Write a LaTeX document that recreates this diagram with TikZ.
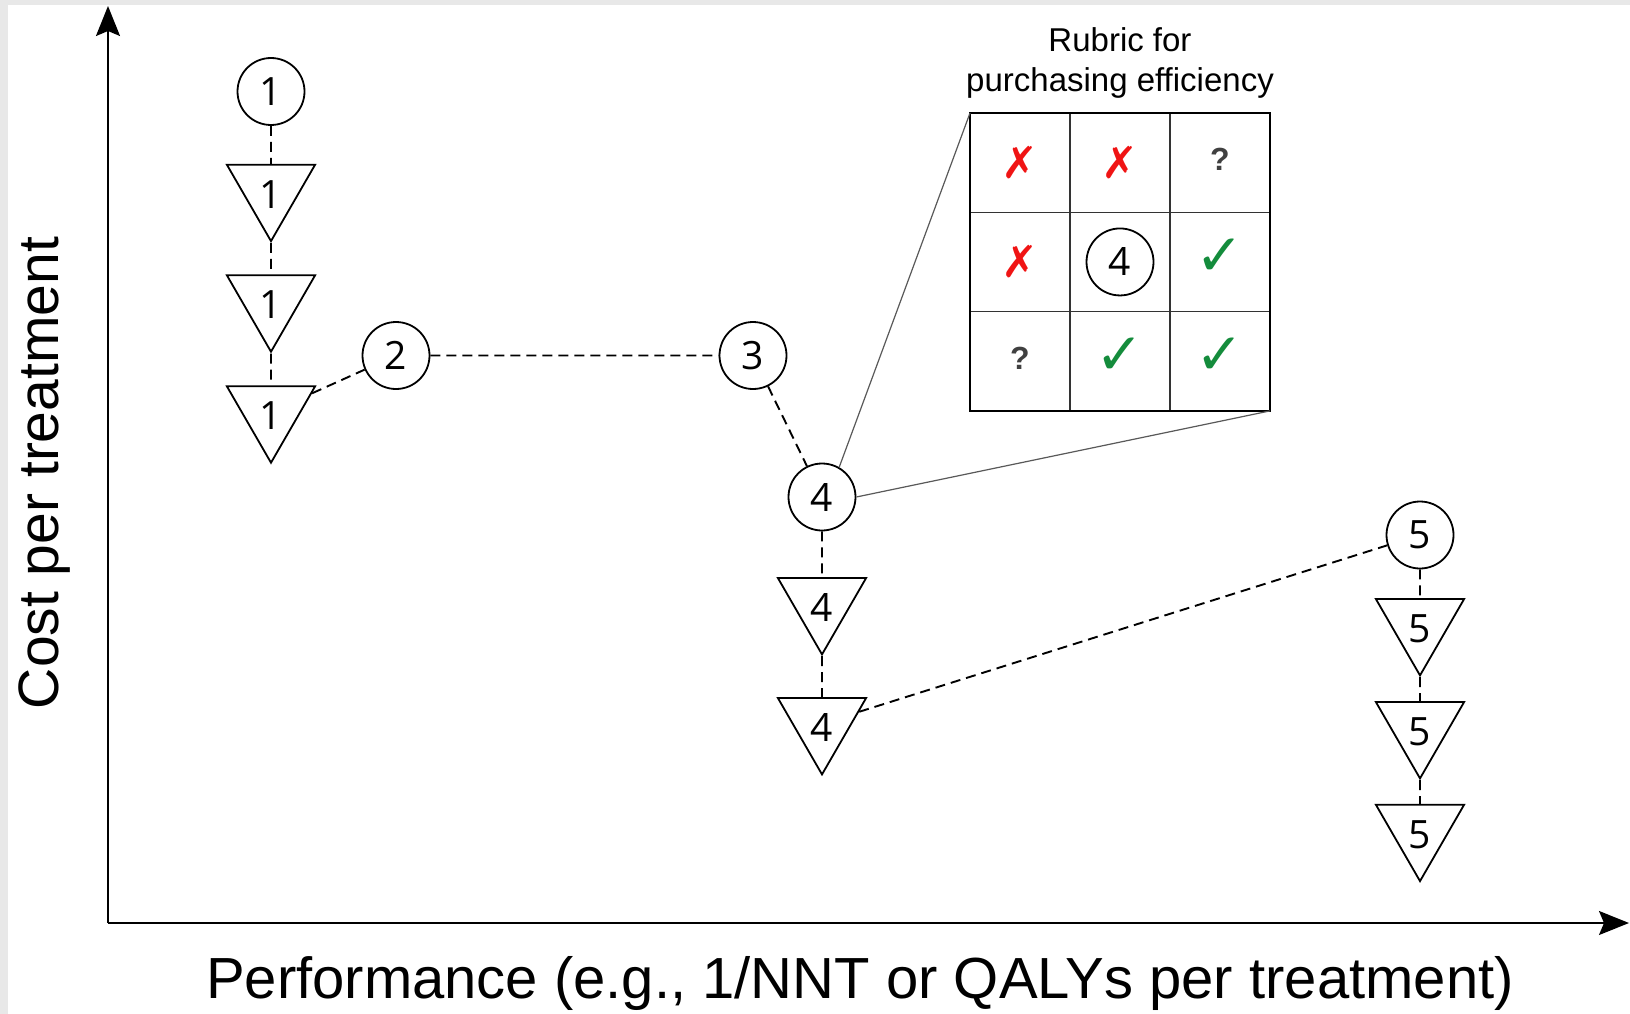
\documentclass[tikz,border=0pt]{standalone}
\usepackage{fontspec}
\setmainfont{Liberation Sans}
\newfontfamily\digitfont{Open Sans}
\newfontfamily\markfont{DejaVu Sans}
\usetikzlibrary{shapes,arrows.meta}
\definecolor{crossred}{RGB}{240,20,20}
\definecolor{tickgreen}{RGB}{20,140,60}
\definecolor{edgegray}{RGB}{232,232,232}

\begin{document}
\begin{tikzpicture}[x=1pt,y=-1pt,
    opt/.style={circle,draw,line width=1.8pt,minimum size=67pt,inner sep=0pt,
        font=\digitfont\fontsize{39}{39}\selectfont},
    dom/.style={regular polygon,regular polygon sides=3,shape border rotate=180,
        draw,line width=1.8pt,minimum size=94pt,inner sep=0pt,
        text height=36pt,text depth=0pt,
        font=\digitfont\fontsize{39}{39}\selectfont},
    link/.style={dash pattern=on 10pt off 6pt,line width=1.9pt},
    zoomline/.style={gray!70!black,line width=1.2pt},
    axis/.style={line width=1.8pt,-{Stealth[length=30pt,width=24pt,inset=5pt]}},
    cross/.style={text=crossred,font=\markfont\fontsize{44}{44}\selectfont},
    tick/.style={text=tickgreen,font=\markfont\fontsize{58}{58}\selectfont},
    unsure/.style={text=black!75,font=\bfseries\fontsize{32}{32}\selectfont}]
    \pgfmathsetmacro{\cw}{100}
    \pgfmathsetmacro{\ch}{99.3}
    % Background and margins
    \fill[edgegray] (0,0) rectangle (1630,1014);
    \fill[white] (8,5) rectangle (1630,1014);
    \useasboundingbox (0,0) rectangle (1630,1014);

    % Draw the axes
    \coordinate (origin) at (108,923);
    \coordinate (ytop) at (108,6);
    \coordinate (xend) at (1629,923);
    \draw[axis] (origin) -- (ytop);
    \draw[axis] (origin) -- (xend);
    \node[anchor=base,font=\fontsize{58}{58}\selectfont] (xlabel) at (860,998)
        {Performance (e.g., 1/NNT or QALYs per treatment)};
    \node[anchor=base,rotate=90,font=\fontsize{57}{57}\selectfont] (ylabel) at (58,473)
        {Cost per treatment};

    % Draw the options and their dominated variants
    \node[opt] (n1) at (271,91.5) {1};
    \node[dom] (t1a) at (271,190.2) {1};
    \node[dom] (t1b) at (271,300.8) {1};
    \node[dom] (t1c) at (271,411.8) {1};
    \node[opt] (n2) at (396,355.5) {2};
    \node[opt] (n3) at (753,355.5) {3};
    \node[opt] (n4) at (822,497) {4};
    \node[dom] (t4a) at (822,603.5) {4};
    \node[dom] (t4b) at (822,723.5) {4};
    \node[opt] (n5) at (1420,535) {5};
    \node[dom] (t5a) at (1420,624.5) {5};
    \node[dom] (t5b) at (1420,727.5) {5};
    \node[dom] (t5c) at (1420,830.2) {5};

    % Dashed links
    \draw[link] (n1) -- (t1a) -- (t1b) -- (t1c);
    \draw[link] (t1c) -- (n2) -- (n3) -- (n4) -- (t4a) -- (t4b);
    \draw[link] (t4b) -- (n5) -- (t5a) -- (t5b) -- (t5c);

    % Draw the rubric
    \node[font=\fontsize{33}{40}\selectfont,align=center] (rtitle) at (1120,63)
        {Rubric for\\purchasing efficiency};
    \coordinate (rubricNW) at (970,113);
    \coordinate (rubricSE) at (970+3*\cw,113+3*\ch);
    \foreach \i in {1,2} {
        \draw[line width=1.4pt,black!80] (970+\i*\cw,113) -- (970+\i*\cw,113+3*\ch);
        \draw[line width=1.4pt,black!80] (970,113+\i*\ch) -- (970+3*\cw,113+\i*\ch);
    }
    \draw[line width=1.8pt] (rubricNW) rectangle (rubricSE);
    \node[cross] (r11) at (970+0.5*\cw,113+0.5*\ch) {✗};
    \node[cross] (r12) at (970+1.5*\cw,113+0.5*\ch) {✗};
    \node[unsure] (r13) at (970+2.5*\cw,113+0.47*\ch) {?};
    \node[cross] (r21) at (970+0.5*\cw,113+1.5*\ch) {✗};
    \node[opt] (r22) at (970+1.5*\cw,113+1.5*\ch) {4};
    \node[tick] (r23) at (970+2.5*\cw,113+1.45*\ch) {✓};
    \node[unsure] (r31) at (970+0.5*\cw,113+2.47*\ch) {?};
    \node[tick] (r32) at (970+1.5*\cw,113+2.45*\ch) {✓};
    \node[tick] (r33) at (970+2.5*\cw,113+2.45*\ch) {✓};

    % Zoom lines from option 4
    \draw[zoomline] (n4.60) -- (rubricNW);
    \draw[zoomline] (n4.east) -- (rubricSE);
\end{tikzpicture}
\end{document}
